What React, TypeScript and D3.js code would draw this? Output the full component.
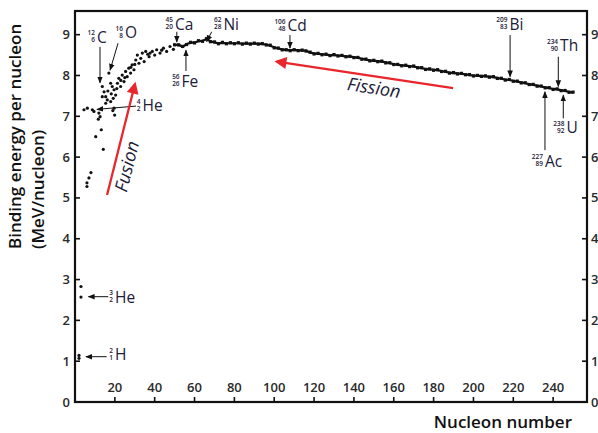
import React from 'react';
import * as d3 from 'd3';

// scattered light nuclei: [nucleon number, MeV per nucleon]
const lightNuclei: [number, number][] = [
  [2, 1.07], [2, 1.14], [3, 2.57], [3, 2.83],
  [6, 5.28], [6, 5.37], [7, 5.49], [8, 5.62],
  [4.5, 7.16], [6.2, 7.2], [8.7, 7.16], [9.5, 7.12], [12, 7.08], [12.6, 6.99],
  [10.4, 6.5], [13.2, 6.67], [14.2, 6.19], [11.7, 6.93],
  [19.6, 7.2], [19.9, 7.03], [19, 7.14],
  [13.7, 7.73], [14.6, 7.6], [13.7, 7.48], [15.4, 7.48], [16.2, 7.4], [17.9, 7.36], [15.4, 7.32],
  [17, 8.06], [17.9, 7.81], [18.7, 7.73], [19.6, 7.65], [20.4, 7.52], [19.2, 7.44],
  [21.3, 7.81], [22, 7.93], [22.9, 7.73], [23.7, 8.01], [24.6, 7.85], [25.4, 8.1],
  [26.2, 7.97], [27, 8.18], [27.9, 8.06], [28.7, 8.26], [29.6, 8.14], [30.5, 8.38],
  [31.3, 8.5], [32.1, 8.3], [33, 8.42], [33.8, 8.55], [34.7, 8.34], [35.5, 8.59],
  [37.2, 8.46], [38.8, 8.59], [37.7, 8.55], [41, 8.63], [42.7, 8.55], [44.4, 8.67],
  [46, 8.59], [47.7, 8.71], [49.4, 8.64], [40, 8.5], [36.5, 8.52], [43.5, 8.62],
  [16.5, 7.62], [18.2, 7.55], [21, 7.68], [23, 7.88], [25, 7.95], [28, 8.2], [30, 8.27],
];

// stable curve, every second nucleon number from 50 to 250
const curveStart = 50;
const curveBE = [
  8.74, 8.76, 8.70, 8.77, 8.80, 8.81, 8.84, 8.85, 8.89, 8.84,
  8.81, 8.79, 8.80, 8.79, 8.79, 8.79, 8.79, 8.78, 8.78, 8.78,
  8.78, 8.78, 8.77, 8.76, 8.73, 8.69, 8.66, 8.64, 8.62, 8.62,
  8.62, 8.62, 8.61, 8.61, 8.56, 8.54, 8.53, 8.52, 8.51, 8.50,
  8.50, 8.49, 8.48, 8.47, 8.46, 8.45, 8.43, 8.41, 8.39, 8.37,
  8.36, 8.35, 8.34, 8.32, 8.30, 8.28, 8.26, 8.25, 8.24, 8.23,
  8.22, 8.20, 8.18, 8.16, 8.15, 8.14, 8.13, 8.11, 8.09, 8.07,
  8.06, 8.05, 8.04, 8.03, 8.01, 8.00, 7.99, 7.99, 7.98, 7.97,
  7.96, 7.94, 7.92, 7.90, 7.89, 7.87, 7.85, 7.83, 7.81, 7.79,
  7.77, 7.75, 7.73, 7.71, 7.69, 7.67, 7.66, 7.64, 7.62, 7.60,
  7.58,
];

const xTicks = [20, 40, 60, 80, 100, 120, 140, 160, 180, 200, 220, 240];
const yTicks = [0, 1, 2, 3, 4, 5, 6, 7, 8, 9];

// isotope labels: mass, Z, symbol, label anchor (A, BE), arrow from -> to
const isotopes = [
  { m: '12', z: '6', s: 'C', lx: 11.0, ly: 8.79, a: [12.55, 8.7, 12.55, 7.82] },
  { m: '16', z: '8', s: 'O', lx: 25.1, ly: 8.91, a: [21.6, 8.79, 17.6, 8.13] },
  { m: '4', z: '2', s: 'He', lx: 33.9, ly: 7.12, a: [30.6, 7.25, 11.0, 7.17] },
  { m: '45', z: '20', s: 'Ca', lx: 50.2, ly: 9.12, a: [51.1, 9.07, 51.1, 8.82] },
  { m: '56', z: '26', s: 'Fe', lx: 53.5, ly: 7.73, a: [55.7, 8.11, 55.7, 8.62] },
  { m: '62', z: '28', s: 'Ni', lx: 74.5, ly: 9.12, a: [68.6, 9.07, 66.1, 8.83] },
  { m: '106', z: '48', s: 'Cd', lx: 106.7, ly: 9.08, a: [107.9, 8.99, 107.9, 8.67] },
  { m: '209', z: '83', s: 'Bi', lx: 218.1, ly: 9.12, a: [218.4, 8.99, 218.4, 7.97] },
  { m: '234', z: '90', s: 'Th', lx: 243.5, ly: 8.59, a: [242.6, 8.46, 242.6, 7.73] },
  { m: '238', z: '92', s: 'U', lx: 246.7, ly: 6.58, a: [245.1, 6.95, 245.1, 7.52] },
  { m: '227', z: '89', s: 'Ac', lx: 235.9, ly: 5.77, a: [235.9, 6.17, 235.9, 7.6] },
  { m: '3', z: '2', s: 'He', lx: 20.1, ly: 2.43, a: [16.7, 2.58, 6.7, 2.58] },
  { m: '2', z: '1', s: 'H', lx: 20.1, ly: 1.02, a: [15.9, 1.11, 5.5, 1.11] },
];

const W = 598;
const H = 433;
const ink = '#1d2038';
const red = '#e8262b';

export default function App() {
  const x = d3.scaleLinear().domain([0, 257]).range([75, 587]);
  const y = d3.scaleLinear().domain([0, 9.58]).range([402, 11]);

  const curvePts = curveBE.map((v, i) => [curveStart + i * 2, v] as [number, number]);
  const linePath = d3.line<[number, number]>()
    .x(d => x(d[0]))
    .y(d => y(d[1]))(curvePts);

  const font = "'Open Sans', 'DejaVu Sans', sans-serif";

  // red arrows
  const fus = { x1: x(16.1), y1: y(5.07), x2: x(30.1), y2: y(7.79) };
  const fis = { x1: x(189.8), y1: y(7.69), x2: x(101.3), y2: y(8.34) };

  return (
    <svg width={W} height={H} style={{ position: 'absolute', left: 0, top: 0, background: '#fff' }} fontFamily={font}>
      <defs>
        <marker id="blk" viewBox="0 0 10 10" refX="9" refY="5" markerWidth="7" markerHeight="7" markerUnits="userSpaceOnUse" orient="auto">
          <path d="M0,1 L10,5 L0,9 z" fill="#111" />
        </marker>
        <marker id="redhead" viewBox="0 0 10 10" refX="8" refY="5" markerWidth="14" markerHeight="12" markerUnits="userSpaceOnUse" orient="auto">
          <path d="M0,0 L10,5 L0,10 z" fill={red} />
        </marker>
      </defs>

      {/* frame */}
      <rect x={75} y={11} width={512} height={391} fill="none" stroke="#111" strokeWidth={2.2} />

      {/* y ticks both sides */}
      {yTicks.map(t => (
        <g key={'y' + t}>
          {t > 0 && <line x1={75} x2={80} y1={y(t)} y2={y(t)} stroke="#111" strokeWidth={1.6} />}
          {t > 0 && <line x1={582} x2={587} y1={y(t)} y2={y(t)} stroke="#111" strokeWidth={1.6} />}
          <text x={70} y={y(t)} dy="0.35em" textAnchor="end" fontSize={13} fontWeight={600} fill="#2a2a2a">{t}</text>
          <text x={591} y={y(t)} dy="0.35em" textAnchor="start" fontSize={13} fontWeight={600} fill="#2a2a2a">{t}</text>
        </g>
      ))}

      {/* x ticks */}
      {xTicks.map(t => (
        <g key={'x' + t}>
          <line x1={x(t)} x2={x(t)} y1={402} y2={397} stroke="#111" strokeWidth={1.6} />
          <text x={x(t)} y={392} textAnchor="middle" fontSize={13} fontWeight={600} fill="#2a2a2a">{t}</text>
        </g>
      ))}

      {/* axis titles */}
      <g fontSize={17} fontWeight={600} fill="#111">
        <text transform="translate(21,249) rotate(-90)">Binding energy per nucleon</text>
        <text transform="translate(44,249) rotate(-90)">(MeV/nucleon)</text>
        <text x={572} y={428} textAnchor="end">Nucleon number</text>
      </g>

      {/* data */}
      {lightNuclei.map((d, i) => (
        <circle key={'p' + i} cx={x(d[0])} cy={y(d[1])} r={1.6} fill="#111" />
      ))}
      <path d={linePath || ''} fill="none" stroke="#111" strokeWidth={2.2} />
      {curvePts.map((d, i) => (
        <rect key={'c' + i} x={x(d[0]) - 1.6} y={y(d[1]) - 1.6 + (i % 2 ? 0.5 : -0.5)} width={3.2} height={3.2} fill="#111" />
      ))}

      {/* isotope annotations: stacked mass / atomic number before the symbol */}
      {isotopes.map((d, i) => {
        const lx = x(d.lx);
        const ly = y(d.ly);
        return (
          <g key={'iso' + i} fill={ink}>
            <line x1={x(d.a[0])} y1={y(d.a[1])} x2={x(d.a[2])} y2={y(d.a[3])} stroke="#111" strokeWidth={1} markerEnd="url(#blk)" />
            <text textAnchor="end" fontSize={6.5} fontWeight={600}>
              <tspan x={lx - 2} y={ly - 7.8}>{d.m}</tspan>
              <tspan x={lx - 2} y={ly - 0.8}>{d.z}</tspan>
            </text>
            <text x={lx} y={ly} fontSize={15.5}>{d.s}</text>
          </g>
        );
      })}

      {/* fusion / fission */}
      <line x1={fus.x1} y1={fus.y1} x2={fus.x2} y2={fus.y2} stroke={red} strokeWidth={2.3} markerEnd="url(#redhead)" />
      <line x1={fis.x1} y1={fis.y1} x2={fis.x2} y2={fis.y2} stroke={red} strokeWidth={2.3} markerEnd="url(#redhead)" />
      <text transform="translate(133,168) rotate(-76)" textAnchor="middle" fontSize={18} fontStyle="italic" fill={ink}>Fusion</text>
      <text transform="translate(373,94) rotate(8.5)" textAnchor="middle" fontSize={18} fontStyle="italic" fill={ink}>Fission</text>
    </svg>
  );
}
